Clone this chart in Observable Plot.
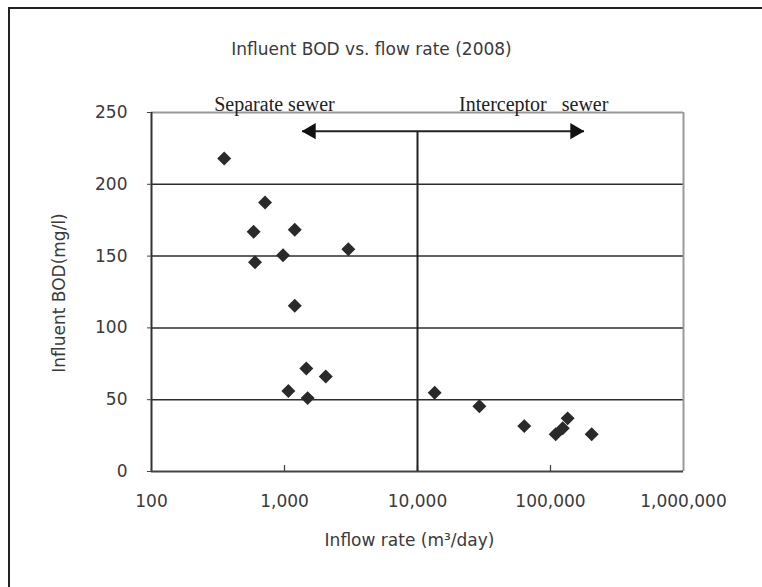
<!DOCTYPE html>
<html>
<head>
<meta charset="utf-8">
<script src="https://cdn.jsdelivr.net/npm/d3@7"></script>
<script src="https://cdn.jsdelivr.net/npm/@observablehq/plot@0.6"></script>
<style>
  html, body { margin: 0; padding: 0; background: #fff; }
  #wrap { position: relative; width: 762px; height: 587px; overflow: hidden; }
  #outer { position: absolute; left: 8px; top: 7px; width: 800px; height: 700px;
           border-left: 2px solid #222; border-top: 2px solid #222; z-index: 2; pointer-events: none; }
</style>
</head>
<body>
<div id="wrap"><div id="outer"></div></div>
<script>
// ---- data ----
const separateFlow = [352, 714, 586, 1194, 3020, 975, 600, 1194, 1459, 2042, 1069, 1493];
const separateBOD  = [218, 187.4, 166.9, 168.3, 154.8, 150.6, 145.7, 115.5, 71.8, 66.2, 56, 51.1];
const interceptorFlow = [13460, 29200, 63500, 109400, 123600, 134600, 204000];
const interceptorBOD  = [54.9, 45.5, 31.6, 26, 30.2, 37, 26];
const xTicks = [100, 1000, 10000, 100000, 1000000];
const yTicks = [0, 50, 100, 150, 200, 250];
const dividerFlow = [10000];
const arrowBOD = 237;
const arrowTips = [1355, 178600];
const groupLabels = ["Separate sewer", "Interceptor\u00a0\u00a0 sewer"];
const groupLabelX = [841, 74800];
const titleText = "Influent BOD vs. flow rate (2008)";
const xTitle = "Inflow rate (m\u00b3/day)";
const yTitle = "Influent BOD(mg/l)";

const points = [
  ...separateFlow.map((f, i) => ({flow: f, bod: separateBOD[i]})),
  ...interceptorFlow.map((f, i) => ({flow: f, bod: interceptorBOD[i]}))
];

const sans = "DejaVu Sans, sans-serif";
const serif = "Liberation Serif, Times New Roman, serif";

const chart = Plot.plot({
  width: 762,
  height: 587,
  marginLeft: 151,
  marginRight: 79,
  marginTop: 112,
  marginBottom: 116,
  style: {fontFamily: sans, fontSize: "17px", color: "#3a3a3a", background: "transparent"},
  x: {type: "log", domain: [100, 1000000], ticks: xTicks, tickFormat: d3.format(","), label: null},
  y: {domain: [0, 250], ticks: yTicks, label: null},
  marks: [
    Plot.ruleY(yTicks.slice(1, -1), {stroke: "#2e2e2e", strokeWidth: 1.5}),
    Plot.ruleY([250], {stroke: "#999", strokeWidth: 2}),
    Plot.ruleX([1000000], {stroke: "#999", strokeWidth: 2}),
    Plot.ruleX([100], {stroke: "#333", strokeWidth: 2}),
    Plot.ruleY([0], {stroke: "#444", strokeWidth: 2}),
    Plot.tickX(xTicks.slice(1, -1), {stroke: "#444", strokeWidth: 1.3, insetTop: 353}),
    Plot.axisX({ticks: xTicks, tickFormat: d3.format(","), tickSize: 0, tickPadding: 23, fontSize: 17, label: null}),
    Plot.axisY({ticks: yTicks, tickSize: 4, tickPadding: 20, fontSize: 17, label: null, stroke: "#444"}),
    // divider and arrows
    Plot.ruleX(dividerFlow, {y1: 0, y2: arrowBOD, stroke: "#222", strokeWidth: 2}),
    Plot.link(arrowTips.map(t => ({x1: dividerFlow[0], x2: t})), {x1: "x1", x2: "x2", y1: arrowBOD, y2: arrowBOD, stroke: "#222", strokeWidth: 2}),
    Plot.dot([arrowTips[0]], {x: d => d, y: arrowBOD, symbol: "triangle", r: 6, rotate: -90, dx: 9, fill: "#111", stroke: "none"}),
    Plot.dot([arrowTips[1]], {x: d => d, y: arrowBOD, symbol: "triangle", r: 6, rotate: 90, dx: -9, fill: "#111", stroke: "none"}),
    // points
    Plot.dot(points, {x: "flow", y: "bod", symbol: "diamond2", r: 6.3, fill: "#2a2a2a", stroke: "none"}),
    // group labels
    Plot.text(groupLabels, {x: (d, i) => groupLabelX[i], frameAnchor: "top", dy: -2, lineAnchor: "bottom",
      text: d => d, fontFamily: serif, fontSize: 20, fill: "#222", textAnchor: "middle", style: "letter-spacing:0.5px"}),
    // titles
    Plot.text([titleText], {frameAnchor: "top", dx: -46, dy: -63, lineAnchor: "middle", text: d => d, fontSize: 17, fill: "#3a3a3a", textAnchor: "middle", style: "letter-spacing:0.4px"}),
    Plot.text([xTitle], {frameAnchor: "bottom", dx: -8, dy: 69, lineAnchor: "middle", text: d => d, fontSize: 17, fill: "#3a3a3a", textAnchor: "middle", style: "letter-spacing:0.4px"}),
    Plot.text([yTitle], {frameAnchor: "left", dx: -92, dy: 1, rotate: -90, lineAnchor: "middle", text: d => d, fontSize: 17, fill: "#3a3a3a", textAnchor: "middle", style: "letter-spacing:0.6px"})
  ]
});
document.getElementById("wrap").prepend(chart);
</script>
</body>
</html>
